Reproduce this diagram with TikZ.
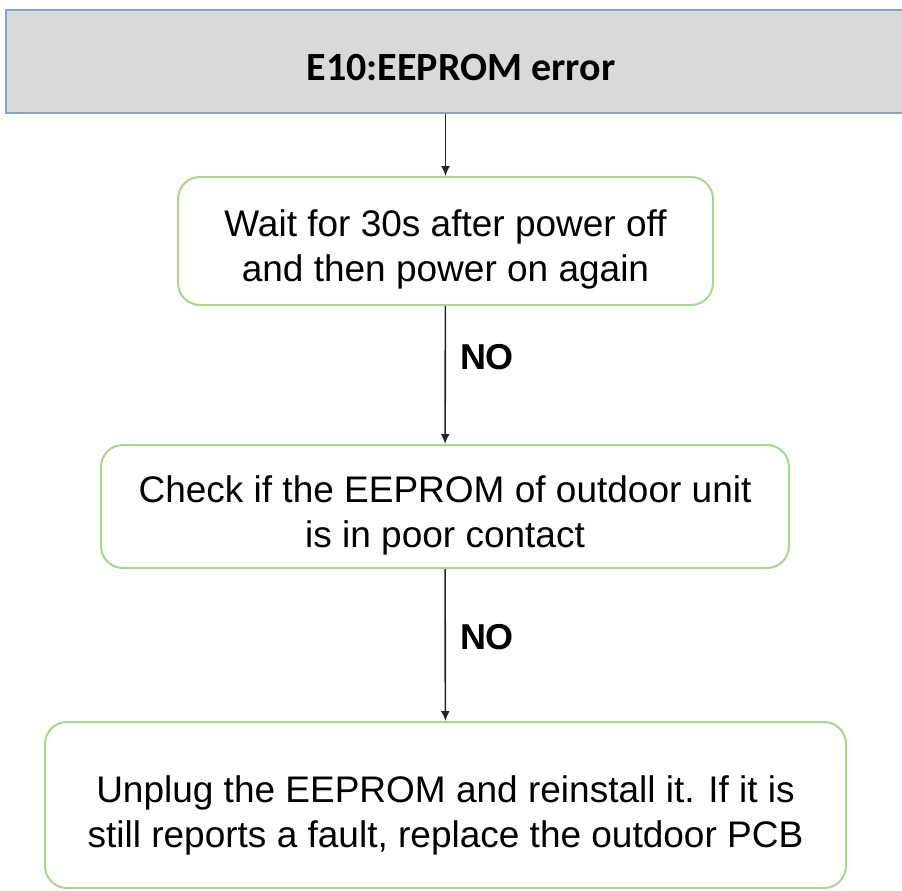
\documentclass[tikz,border=0pt]{standalone}
\usepackage{fontspec}
\setmainfont{Liberation Sans}
\newfontfamily\titlefont{Carlito}
\usetikzlibrary{positioning, calc, arrows.meta}

\definecolor{headfill}{HTML}{D9D9D9}
\definecolor{headline}{HTML}{8BA3C2}
\definecolor{stepline}{HTML}{A8D590}

% taller first line, pushes the text a little down in its box
\newcommand{\topgap}[1]{\rule{0pt}{#1}}

\begin{document}
\begin{tikzpicture}[
    x=1pt, y=-1pt,
    headstyle/.style={
        draw=headline,
        fill=headfill,
        line width=2pt,
        inner sep=0pt,
        font=\titlefont\bfseries\fontsize{40}{48}\selectfont
    },
    stepbox/.style={
        draw=stepline,
        line width=2pt,
        rounded corners=22pt,
        inner sep=0pt,
        align=center,
        font=\fontsize{37}{45}\selectfont
    },
    arrow/.style={
        -{Latex[length=10pt, width=9pt]},
        line width=1.6pt,
        black!85
    },
    nolabel/.style={
        font=\bfseries\fontsize{36}{40}\selectfont
    }
]

% page size
\useasboundingbox (0,0) rectangle (902,891);

% header bar (runs past the right edge)
\node[headstyle, minimum width=910pt, minimum height=103pt] (head) at (461,61.5) {\topgap{38pt}E10:EEPROM error};

% steps
\node[stepbox, minimum width=535pt, minimum height=128pt] (wait) at (445.5,241)
    {\topgap{44pt}Wait for 30s after power off\\and then power on again};
\node[stepbox, minimum width=688pt, minimum height=123pt] (check) at (445,506.5)
    {\topgap{44pt}Check if the EEPROM of outdoor unit\\is in poor contact};
\node[stepbox, minimum width=801pt, minimum height=166pt] (unplug) at (445.5,805)
    {\topgap{48pt}Unplug the EEPROM and reinstall it. If it is\\still reports a fault, replace the outdoor PCB};

% connectors
\draw[arrow] (head.south -| wait.north) -- (wait.north);
\draw[arrow] (wait) -- (check);
\draw[arrow] (check) -- (unplug);

\node[nolabel] (no1) at (487,357) {NO};
\node[nolabel] (no2) at (487,637) {NO};

\end{tikzpicture}
\end{document}
